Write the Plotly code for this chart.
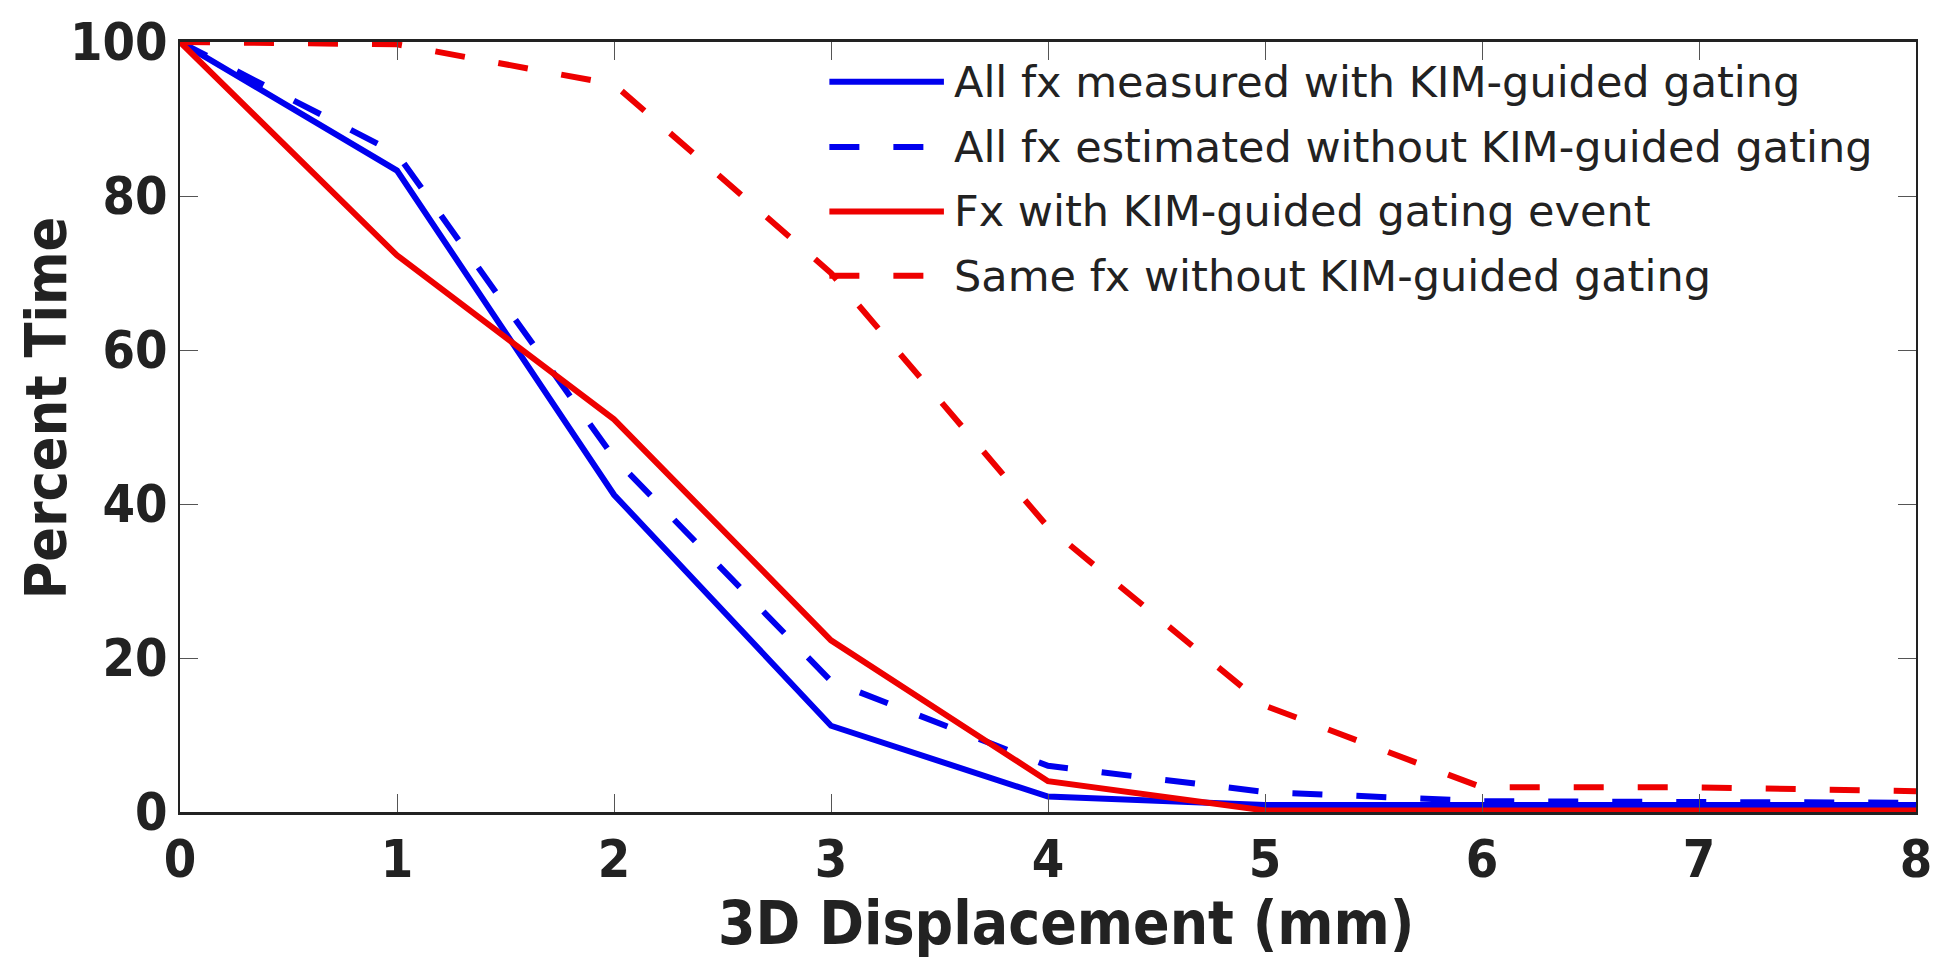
import plotly.graph_objects as go

# Data
x_mm = [0, 1, 2, 3, 4, 5, 6, 7, 8]
all_fx_measured = [100, 83.3, 41.2, 11.2, 2.0, 0.9, 0.9, 0.9, 0.9]
all_fx_estimated = [100, 85.5, 46.0, 17.0, 6.0, 2.6, 1.4, 1.3, 1.2]
fx_with_gating = [100, 72.3, 51.0, 22.3, 4.0, 0.2, 0.2, 0.2, 0.2]
same_fx_without = [100, 99.7, 94.5, 70.0, 37.0, 13.8, 3.2, 3.2, 2.7]

series_names = [
    "All fx measured with KIM-guided gating",
    "All fx estimated without KIM-guided gating",
    "Fx with KIM-guided gating event",
    "Same fx without KIM-guided gating",
]
series_values = [all_fx_measured, all_fx_estimated, fx_with_gating, same_fx_without]
series_colors = ["#0000ee", "#0000ee", "#ee0000", "#ee0000"]
series_dash = ["solid", "30px,34px", "solid", "30px,34px"]

x_ticks = [0, 1, 2, 3, 4, 5, 6, 7, 8]
y_ticks = [0, 20, 40, 60, 80, 100]
x_title = "3D Displacement (mm)"
y_title = "Percent Time"

BOLD = "DejaVu Sans Condensed, DejaVu Sans, sans-serif"
TXT = "#222222"

fig = go.Figure()
for name, vals, col, dash in zip(series_names, series_values, series_colors, series_dash):
    fig.add_trace(go.Scatter(
        x=x_mm, y=vals, mode="lines", name=name,
        line=dict(color=col, width=6, dash=dash),
        showlegend=False,
    ))

W, H = 1944, 961
L, R, T, B = 180, 1923, 35, 812


def px_x(p):
    return (p - L) / (R - L)


def px_y(p):
    return (B - p) / (B - T)


# manual legend (long line samples like the original)
leg_rows_px = [75, 141, 206, 271]
for name, col, dash, ypx in zip(series_names, series_colors, series_dash, leg_rows_px):
    yp = px_y(ypx)
    fig.add_shape(type="line", xref="paper", yref="paper", x0=px_x(832), x1=px_x(947), y0=yp, y1=yp,
                  line=dict(color=col, width=6, dash=dash))
    fig.add_annotation(xref="paper", yref="paper", x=px_x(955), y=yp,
                       xanchor="left", yanchor="middle", showarrow=False,
                       text=name, font=dict(family="DejaVu Sans, sans-serif", size=43, color=TXT))

# axis titles
fig.add_annotation(xref="paper", yref="paper", x=px_x(1070), y=px_y(924), xanchor="center", yanchor="middle",
                   showarrow=False, text=x_title,
                   font=dict(family=BOLD, size=60, color=TXT, weight="bold"))
fig.add_annotation(xref="paper", yref="paper", x=px_x(45), y=px_y(404), xanchor="center", yanchor="middle",
                   showarrow=False, text=y_title, textangle=-90,
                   font=dict(family=BOLD, size=57, color=TXT, weight="bold"))

axis_common = dict(
    showgrid=False, zeroline=False, showline=True, linecolor="#222222",
    mirror="allticks", ticks="inside", ticklen=18, tickwidth=1, tickcolor="#555555",
    tickfont=dict(family=BOLD, size=52, color=TXT, weight="bold"),
)

fig.update_xaxes(range=[0, 8], tickvals=x_ticks, ticktext=[str(v) for v in x_ticks],
                 linewidth=3, **axis_common)
fig.update_yaxes(range=[0, 100], tickvals=y_ticks, ticktext=[str(v) for v in y_ticks],
                 linewidth=2, **axis_common)

fig.update_layout(
    width=W, height=H,
    margin=dict(l=L, r=W - R, t=T, b=H - B, pad=0),
    paper_bgcolor="white", plot_bgcolor="white",
)

fig.write_html("out.html", config={"displayModeBar": False},
               post_script="document.body.style.margin='0';")
